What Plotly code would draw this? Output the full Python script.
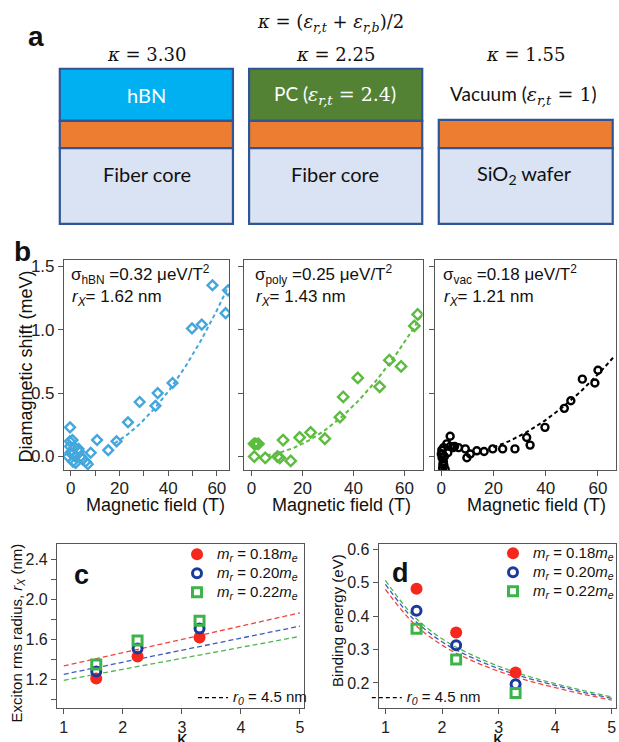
import numpy as np
import plotly.graph_objects as go

W, H = 619, 742


def px(x):
    return x / W


def py(y):
    return 1 - y / H


# ---------------- panel b: diamagnetic shift vs magnetic field ----------------
hbn_B = [-0.3, -0.4, 0.7, -0.3, 1.6, 3.2, 3.4, -0.2, 0.8, -1.1, 1.8, 0.9, 2.0, 4.2,
         4.8, 6.1, 7.0, 8.2, 10.8, 15.4, 18.8, 23.5, 28.3, 34.8, 35.7, 41.8, 49.8,
         53.8, 58.2, 64.6, 63.6]
hbn_E = [0.23, 0.12, 0.13, 0.08, 0.07, 0.06, 0.04, 0.03, 0.02, 0.00, 0.00, -0.04,
         -0.05, 0.00, -0.02, -0.04, -0.06, 0.03, 0.13, 0.05, 0.12, 0.27, 0.43, 0.40,
         0.50, 0.58, 1.01, 1.04, 1.35, 1.31, 1.13]

pc_B = [1.0, 2.7, 1.7, 1.1, 5.4, 10.2, 11.1, 15.4, 12.4, 18.9, 23.2, 28.8, 34.7,
        36.0, 41.7, 50.3, 54.1, 58.7, 63.9, 65.2]
pc_E = [0.10, 0.10, 0.10, 0.00, -0.01, 0.00, -0.01, -0.035, 0.13, 0.15, 0.19, 0.14,
        0.31, 0.47, 0.62, 0.55, 0.76, 0.71, 1.03, 1.12]

vac_B = [60.0, 58.8, 54.0, 49.6, 47.1, 39.7, 32.7, 34.0, 28.2, 23.5, 19.7, 16.4,
         13.6, 11.1, 9.8, 9.2, 6.6, 5.1, 3.4, 2.1, 0.9, 0.2, 0.5, 0.3, 0.8, 1.0,
         0.5, 1.5, 1.2, 2.5, 3.5, 4.5, 0.0, 0.6]
vac_E = [0.68, 0.58, 0.61, 0.44, 0.38, 0.23, 0.15, 0.09, 0.06, 0.06, 0.06, 0.04,
         0.045, 0.02, -0.01, 0.06, 0.07, 0.08, 0.16, 0.10, 0.07, 0.05, 0.02, -0.01,
         -0.04, -0.07, -0.09, -0.10, 0.00, 0.03, 0.08, 0.07, 0.02, -0.06]

# diamagnetic coefficients (ueV/T^2) and rms radii (nm)
sigma = {"hBN": 0.32, "poly": 0.25, "vac": 0.18}
radius = {"hBN": 1.62, "poly": 1.43, "vac": 1.21}
fit_span = {"hBN": (18, 65), "poly": (6, 67), "vac": (20, 66)}

# ---------------- panels c, d: radius and binding energy vs kappa ----------------
kappa = [1.55, 2.25, 3.30]
rx_018 = [1.21, 1.43, 1.62]
rx_020 = [1.28, 1.51, 1.71]
rx_022 = [1.35, 1.59, 1.79]
eb_018 = [0.482, 0.351, 0.231]
eb_020 = [0.416, 0.313, 0.196]
eb_022 = [0.362, 0.270, 0.170]

# model curves for r0 = 4.5 nm
rfit_kappa = [1, 5]
rfit_018 = [1.336, 1.868]
rfit_020 = [1.253, 1.735]
rfit_022 = [1.193, 1.632]

efit_kappa = [1.0, 1.5, 2.0, 2.5, 3.0, 3.5, 4.0, 4.5, 5.0]
efit_018 = [0.480, 0.378, 0.313, 0.269, 0.235, 0.208, 0.186, 0.166, 0.149]
efit_020 = [0.495, 0.390, 0.323, 0.278, 0.243, 0.215, 0.193, 0.172, 0.154]
efit_022 = [0.507, 0.400, 0.332, 0.286, 0.250, 0.221, 0.198, 0.177, 0.158]

mass_labels = ["0.18", "0.20", "0.22"]

# colours
C_HBN = "#43a6dc"
C_PC = "#5cbc3f"
C_RED = "#f4281c"
C_BLUE = "#1c3a9c"
C_GREEN = "#3db44a"
C_RED_L = "#f0463c"
C_BLUE_L = "#3f5bbd"
C_GREEN_L = "#4fb553"
FRAME = "#555555"
BORDER = "#2f5597"

SANS = "Liberation Sans, Arial, sans-serif"
MATH = "DejaVu Serif, serif"
BOXFONT = "Lato, Open Sans, sans-serif"

fig = go.Figure()

# ---- panel b traces ----
b_sets = [
    ("hBN", hbn_B, hbn_E, C_HBN, "diamond-open", 7.5, "x", "y"),
    ("poly", pc_B, pc_E, C_PC, "diamond-open", 8, "x2", "y2"),
    ("vac", vac_B, vac_E, "#000000", "circle-open", 7, "x3", "y3"),
]
for key, B, E, col, sym, size, xa, ya in b_sets:
    b0, b1 = fit_span[key]
    Bf = np.linspace(b0, b1, 80)
    Ef = sigma[key] * 1e-3 * Bf ** 2
    fig.add_trace(go.Scatter(x=Bf, y=Ef, mode="lines", xaxis=xa, yaxis=ya,
                             line=dict(color=col, width=2, dash="4px,3px"),
                             showlegend=False, hoverinfo="skip"))
    fig.add_trace(go.Scatter(x=B, y=E, mode="markers", xaxis=xa, yaxis=ya,
                             marker=dict(symbol=sym, size=size, color=col,
                                         line=dict(color=col, width=2.4)),
                             showlegend=False))

# ---- panel c, d model curves ----
for yfit, col in [(rfit_018, C_RED_L), (rfit_020, C_BLUE_L), (rfit_022, C_GREEN_L)]:
    fig.add_trace(go.Scatter(x=rfit_kappa, y=yfit, mode="lines", xaxis="x4", yaxis="y4",
                             line=dict(color=col, width=1.3, dash="5px,3px"),
                             showlegend=False, hoverinfo="skip"))
for yfit, col in [(efit_018, C_RED_L), (efit_020, C_BLUE_L), (efit_022, C_GREEN_L)]:
    fig.add_trace(go.Scatter(x=efit_kappa, y=yfit, mode="lines", xaxis="x5", yaxis="y5",
                             line=dict(color=col, width=1.3, dash="5px,3px", shape="spline"),
                             showlegend=False, hoverinfo="skip"))

mstyles = [
    dict(symbol="circle", size=12, color=C_RED),
    dict(symbol="circle-open", size=9, color=C_BLUE, line=dict(color=C_BLUE, width=3)),
    dict(symbol="square-open", size=9, color=C_GREEN, line=dict(color=C_GREEN, width=3)),
]


def big(s):
    # legend rows are spaced by the legend font; the label itself is drawn larger
    return f'<span style="font-size:15px">{s}</span>'


def mname(m):
    return big(f"<i>m</i><sub><i>r</i></sub> = {m}<i>m</i><sub><i>e</i></sub>")


for vals, ms, m in zip([rx_018, rx_020, rx_022], mstyles, mass_labels):
    fig.add_trace(go.Scatter(x=kappa, y=vals, mode="markers", xaxis="x4", yaxis="y4",
                             marker=ms, name=mname(m), legend="legend"))
for vals, ms, m in zip([eb_018, eb_020, eb_022], mstyles, mass_labels):
    fig.add_trace(go.Scatter(x=kappa, y=vals, mode="markers", xaxis="x5", yaxis="y5",
                             marker=ms, name=mname(m), legend="legend3"))

r0_name = big("<i>r<sub>0</sub></i> = 4.5 nm")
fig.add_trace(go.Scatter(x=[None], y=[None], mode="lines", xaxis="x4", yaxis="y4",
                         line=dict(color="#000", width=1.2, dash="4px,3px"),
                         name=r0_name, legend="legend2"))
fig.add_trace(go.Scatter(x=[None], y=[None], mode="lines", xaxis="x5", yaxis="y5",
                         line=dict(color="#000", width=1.2, dash="4px,3px"),
                         name=r0_name, legend="legend4"))

# ---- axes ----
ax = dict(showline=True, mirror=True, linecolor=FRAME, linewidth=1.3,
          ticks="outside", ticklen=5, tickwidth=1.3, tickcolor=FRAME,
          showgrid=False, zeroline=False,
          tickfont=dict(family=SANS, size=17, color="#222"))
axb_x = dict(ax, ticklabelstandoff=-3)
ax_cd = dict(ax, tickfont=dict(family=SANS, size=16, color="#222"))

b_ydom = [py(469), py(257.7)]
b_yr = [-0.107, 1.552]
yt_b = dict(tickvals=[0, 0.5, 1.0, 1.5], ticktext=["0.0", "0.5", "1.0", "1.5"])

fig.update_layout(
    xaxis=dict(axb_x, domain=[px(64.3), px(230)], range=[-2.74, 65.1], anchor="y",
               tickvals=[0, 10, 20, 30, 40, 50, 60],
               ticktext=["0", "", "20", "", "40", "", "60"]),
    yaxis=dict(ax, domain=b_ydom, range=b_yr, anchor="x", **yt_b),
    xaxis2=dict(axb_x, domain=[px(245), px(424)], range=[-2.85, 67.15], anchor="y2",
                tickvals=[0, 20, 40, 60]),
    yaxis2=dict(ax, domain=b_ydom, range=b_yr, anchor="x2", showticklabels=False, **yt_b),
    xaxis3=dict(axb_x, domain=[px(436.7), px(617.5)], range=[-2.29, 66.7], anchor="y3",
                tickvals=[0, 20, 40, 60]),
    yaxis3=dict(ax, domain=b_ydom, range=b_yr, anchor="x3", showticklabels=False, **yt_b),
    xaxis4=dict(ax_cd, domain=[px(57.3), px(305)], range=[0.887, 5.07], anchor="y4",
                tickvals=[1, 2, 3, 4, 5]),
    yaxis4=dict(ax_cd, domain=[py(707.7), py(542.7)], range=[0.917, 2.562], anchor="x4",
                tickvals=[1.0, 1.2, 1.4, 1.6, 1.8, 2.0, 2.2, 2.4],
                ticktext=["", "1.2", "", "1.6", "", "2.0", "", "2.4"]),
    xaxis5=dict(ax_cd, domain=[px(380), px(617.5)], range=[0.883, 5.065], anchor="y5",
                tickvals=[1, 2, 3, 4, 5]),
    yaxis5=dict(ax_cd, domain=[py(707.7), py(542.7)], range=[0.1256, 0.617], anchor="x5",
                tickvals=[0.2, 0.3, 0.4, 0.5, 0.6]),
)

leg = dict(bgcolor="rgba(0,0,0,0)", borderwidth=0, itemwidth=30,
           font=dict(family=SANS, size=12, color="#111"), itemclick=False)
fig.update_layout(
    legend=dict(leg, x=px(304), xanchor="right", y=py(539), yanchor="top"),
    legend2=dict(leg, x=px(313), xanchor="right", y=py(712), yanchor="bottom"),
    legend3=dict(leg, x=px(621), xanchor="right", y=py(538), yanchor="top"),
    legend4=dict(leg, x=px(368), xanchor="left", y=py(712), yanchor="bottom"),
)

# ---- panel a: dielectric stacks ----
shapes = []


def rect(x0, y0, x1, y1, fill):
    return dict(type="rect", xref="paper", yref="paper", x0=px(x0), x1=px(x1),
                y0=py(y1), y1=py(y0), fillcolor=fill,
                line=dict(color=BORDER, width=2.2), layer="above")


TOP, MID, ORB, BOT = 66, 118.3, 145.7, 221.7
boxes = [(60, 233.7, "#00b0f0"), (249.9, 423.6, "#548235")]
for x0, x1, fill in boxes:
    shapes.append(rect(x0, TOP, x1, MID, fill))
    shapes.append(rect(x0, MID, x1, ORB, "#ed7d31"))
    shapes.append(rect(x0, ORB, x1, BOT, "#dae3f3"))
shapes.append(rect(440.2, 117.3, 614.7, ORB, "#ed7d31"))
shapes.append(rect(440.2, ORB, 614.7, BOT, "#dae3f3"))

ann = []


def text(x, y, s, size, family=SANS, color="#111", xanchor="center", angle=0,
         yanchor="middle"):
    ann.append(dict(x=px(x), y=py(y), xref="paper", yref="paper", text=s,
                    showarrow=False, xanchor=xanchor, yanchor=yanchor, textangle=angle,
                    font=dict(family=family, size=size, color=color)))


def eps(sub):
    return f"<i>ε</i><sub><i>{sub}</i></sub>"


text(36, 34, "<b>a</b>", 28)
text(332, 20, f"<i>κ</i> = ({eps('r,t')} + {eps('r,b')})/2", 18, MATH)
text(147, 52, "<i>κ</i> = 3.30", 18, MATH)
text(337, 52, "<i>κ</i> = 2.25", 18, MATH)
text(527, 52, "<i>κ</i> = 1.55", 18, MATH)
text(147, 92, "hBN", 20, BOXFONT, "#ffffff")
text(336, 92, f'PC (<span style="font-family:DejaVu Serif">{eps("r,t")} = 2.4</span>)',
     19, BOXFONT, "#ffffff")
text(525, 92, f'Vacuum (<span style="font-family:DejaVu Serif">{eps("r,t")} = 1</span>)',
     19, BOXFONT, "#111")
text(147, 172, "Fiber core", 20, BOXFONT)
text(336, 172, "Fiber core", 20, BOXFONT)
text(526, 172, "SiO<sub>2</sub> wafer", 20, BOXFONT)

# ---- panel b labels ----
text(23, 250, "<b>b</b>", 28)
text(26, 365, "Diamagnetic shift (meV)", 18, angle=-90)
for xc in (156, 343, 538):
    text(xc, 504, "Magnetic field (T)", 18)
for key, xl in (("hBN", 69), ("poly", 253.5), ("vac", 442)):
    text(xl, 273, f"σ<sub>{key}</sub> ={sigma[key]:.2f} μeV/T<sup>2</sup>", 17,
         xanchor="left")
    text(xl + 1, 296, f"<i>r</i><sub><i>X</i></sub>= {radius[key]:.2f} nm", 17,
         xanchor="left")

# ---- panel c, d labels ----
text(82, 574, "<b>c</b>", 27)
text(402, 572, "<b>d</b>", 27)
text(17, 632, "Exciton rms radius, <i>r</i><sub><i>X</i></sub> (nm)", 15, angle=-90)
text(338.5, 620, "Binding energy (eV)", 15, angle=-90)
text(183, 725, "κ", 20, yanchor="top")
text(500, 725, "κ", 20, yanchor="top")

fig.update_layout(width=W, height=H, margin=dict(l=0, r=0, t=0, b=0),
                  paper_bgcolor="white", plot_bgcolor="white",
                  shapes=shapes, annotations=ann)

fig.write_html("out.html")
